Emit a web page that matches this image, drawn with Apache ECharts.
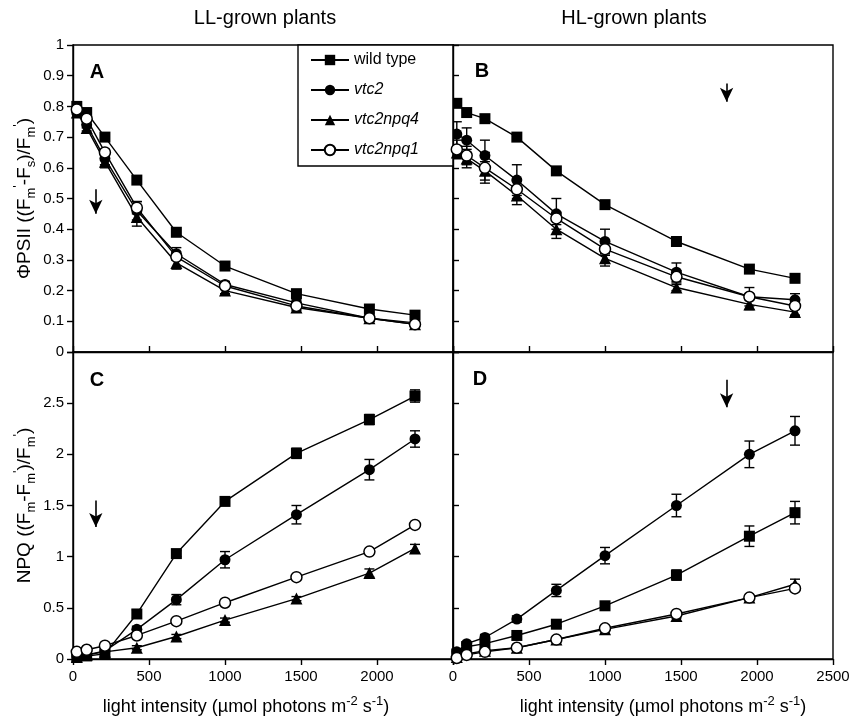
<!DOCTYPE html>
<html>
<head>
<meta charset="utf-8">
<script src="https://cdn.jsdelivr.net/npm/echarts@6/dist/echarts.min.js"></script>
<style>
  html, body { margin: 0; padding: 0; background: #fff; }
  #chart { width: 860px; height: 720px; }
</style>
</head>
<body>
<div id="chart"></div>
<script>
// light intensities (µmol photons m-2 s-1)
const lightX = [25, 90, 210, 420, 680, 1000, 1470, 1950, 2250]
const seriesNames = ['wild type', 'vtc2', 'vtc2npq4', 'vtc2npq1']

// A: PhiPSII, LL-grown
const wtA = [0.80, 0.78, 0.70, 0.56, 0.39, 0.28, 0.19, 0.14, 0.12]
const vtc2A = [0.78, 0.74, 0.63, 0.46, 0.32, 0.22, 0.16, 0.11, 0.095]
const npq4A = [0.78, 0.73, 0.62, 0.44, 0.29, 0.20, 0.145, 0.11, 0.09]
const npq1A = [0.79, 0.76, 0.65, 0.47, 0.31, 0.215, 0.15, 0.11, 0.09]
const wtAErr = [0, 0, 0, 0, 0, 0, 0, 0, 0]
const vtc2AErr = [0, 0.01, 0.02, 0.03, 0.02, 0.01, 0.01, 0.01, 0.01]
const npq4AErr = [0, 0.01, 0.02, 0.03, 0.02, 0.01, 0.01, 0.01, 0.01]
const npq1AErr = [0, 0.01, 0.01, 0.02, 0.01, 0.01, 0.01, 0.01, 0.01]

// B: PhiPSII, HL-grown
const wtB = [0.81, 0.78, 0.76, 0.70, 0.59, 0.48, 0.36, 0.27, 0.24]
const vtc2B = [0.71, 0.69, 0.64, 0.56, 0.45, 0.36, 0.26, 0.18, 0.17]
const npq4B = [0.65, 0.63, 0.59, 0.51, 0.40, 0.305, 0.21, 0.155, 0.13]
const npq1B = [0.66, 0.64, 0.60, 0.53, 0.435, 0.335, 0.245, 0.18, 0.15]
const wtBErr = [0, 0, 0, 0, 0, 0, 0, 0, 0]
const vtc2BErr = [0.04, 0.04, 0.05, 0.05, 0.05, 0.04, 0.03, 0.03, 0.02]
const npq4BErr = [0.02, 0.03, 0.03, 0.03, 0.03, 0.025, 0.01, 0.017, 0.01]
const npq1BErr = [0.03, 0.03, 0.05, 0.03, 0.02, 0.02, 0.02, 0.01, 0.01]

// C: NPQ, LL-grown
const wtC = [0.02, 0.03, 0.05, 0.44, 1.03, 1.54, 2.01, 2.34, 2.57]
const vtc2C = [0.03, 0.04, 0.08, 0.29, 0.58, 0.97, 1.41, 1.85, 2.15]
const npq4C = [0.02, 0.04, 0.07, 0.11, 0.22, 0.38, 0.59, 0.84, 1.08]
const npq1C = [0.07, 0.09, 0.13, 0.23, 0.37, 0.55, 0.80, 1.05, 1.31]
const wtCErr = [0, 0, 0, 0.04, 0.03, 0.03, 0.05, 0.05, 0.06]
const vtc2CErr = [0, 0, 0, 0.03, 0.05, 0.08, 0.09, 0.10, 0.08]
const npq4CErr = [0, 0, 0, 0.02, 0.02, 0.02, 0.02, 0.04, 0.04]
const npq1CErr = [0, 0, 0, 0.01, 0.01, 0.01, 0.01, 0.01, 0.02]

// D: NPQ, HL-grown
const wtD = [0.05, 0.12, 0.15, 0.23, 0.34, 0.52, 0.82, 1.20, 1.43]
const vtc2D = [0.07, 0.15, 0.21, 0.39, 0.67, 1.01, 1.50, 2.00, 2.23]
const npq4D = [0.02, 0.05, 0.08, 0.11, 0.19, 0.29, 0.42, 0.60, 0.73]
const npq1D = [0.01, 0.04, 0.07, 0.11, 0.19, 0.30, 0.44, 0.60, 0.69]
const wtDErr = [0, 0, 0, 0.01, 0.02, 0.02, 0.05, 0.10, 0.11]
const vtc2DErr = [0.02, 0.02, 0.03, 0.03, 0.06, 0.08, 0.11, 0.13, 0.14]
const npq4DErr = [0, 0, 0, 0.01, 0.01, 0.02, 0.02, 0.02, 0.05]
const npq1DErr = [0, 0, 0, 0, 0.01, 0.01, 0.01, 0.01, 0.02]

// growth light arrows (x, y from, y to)
const arrowA = [150, 0.53, 0.45]
const arrowB = [1800, 0.875, 0.815]
const arrowC = [150, 1.55, 1.29]
const arrowD = [1800, 2.73, 2.46]

const FONT = '"Liberation Sans", Arial, Helvetica, sans-serif'

const panels = [
  { vals: [wtA, vtc2A, npq4A, npq1A], errs: [wtAErr, vtc2AErr, npq4AErr, npq1AErr], arrow: arrowA },
  { vals: [wtB, vtc2B, npq4B, npq1B], errs: [wtBErr, vtc2BErr, npq4BErr, npq1BErr], arrow: arrowB },
  { vals: [wtC, vtc2C, npq4C, npq1C], errs: [wtCErr, vtc2CErr, npq4CErr, npq1CErr], arrow: arrowC },
  { vals: [wtD, vtc2D, npq4D, npq1D], errs: [wtDErr, vtc2DErr, npq4DErr, npq1DErr], arrow: arrowD }
]

const markerStyles = [
  { symbol: 'rect', symbolSize: 11, itemStyle: { color: '#000' } },
  { symbol: 'circle', symbolSize: 11, itemStyle: { color: '#000' } },
  { symbol: 'triangle', symbolSize: 12, itemStyle: { color: '#000' } },
  { symbol: 'circle', symbolSize: 11, itemStyle: { color: '#fff', borderColor: '#000', borderWidth: 1.5 } }
]

// vertical error bars with caps
const errorBars = (idx, vals, errs) => ({
  type: 'custom',
  xAxisIndex: idx,
  yAxisIndex: idx,
  z: 1,
  silent: true,
  encode: { x: 0, y: [1, 2] },
  data: lightX.map((x, i) => [x, vals[i] - errs[i], vals[i] + errs[i]]).filter((d, i) => errs[i] > 0),
  renderItem: (params, api) => {
    const lo = api.coord([api.value(0), api.value(1)])
    const hi = api.coord([api.value(0), api.value(2)])
    const w = 5
    const st = { stroke: '#000', lineWidth: 1.4 }
    return {
      type: 'group',
      children: [
        { type: 'line', shape: { x1: lo[0], y1: lo[1], x2: hi[0], y2: hi[1] }, style: st },
        { type: 'line', shape: { x1: hi[0] - w, y1: hi[1], x2: hi[0] + w, y2: hi[1] }, style: st },
        { type: 'line', shape: { x1: lo[0] - w, y1: lo[1], x2: lo[0] + w, y2: lo[1] }, style: st }
      ]
    }
  }
})

const series = []
panels.forEach((p, idx) => {
  p.vals.forEach((vals, k) => {
    series.push(errorBars(idx, vals, p.errs[k]))
  })
  p.vals.forEach((vals, k) => {
    const s = {
      name: seriesNames[k],
      type: 'line',
      xAxisIndex: idx,
      yAxisIndex: idx,
      data: lightX.map((x, i) => [x, vals[i]]),
      symbol: markerStyles[k].symbol,
      symbolSize: markerStyles[k].symbolSize,
      showAllSymbol: true,
      itemStyle: markerStyles[k].itemStyle,
      lineStyle: { color: '#000', width: 1.4 },
      z: 2 + k,
      animation: false
    }
    if (k === 0) {
      const a = p.arrow
      s.markLine = {
        silent: true,
        symbol: ['none', 'arrow'],
        symbolSize: [10, 14],
        label: { show: false },
        lineStyle: { color: '#000', width: 1.6, type: 'solid' },
        data: [[{ coord: [a[0], a[1]] }, { coord: [a[0], a[2]] }]]
      }
    }
    series.push(s)
  })
})

const gridPos = [
  { left: 73, top: 45 },
  { left: 453, top: 45 },
  { left: 73, top: 352 },
  { left: 453, top: 352 }
]

const axisLineStyle = { show: true, lineStyle: { color: '#000', width: 1.4 } }
const labelStyle = { color: '#000', fontFamily: FONT, fontSize: 15 }

const xAxes = [0, 1, 2, 3].map(i => {
  const top = i < 2
  const ax = {
    type: 'value',
    gridIndex: i,
    min: 0,
    max: 2500,
    interval: 500,
    splitLine: { show: false },
    axisLine: axisLineStyle,
    axisTick: { show: true, inside: top, length: 6, lineStyle: { color: '#000', width: 1.4 } },
    axisLabel: {
      show: !top,
      margin: 10,
      ...labelStyle,
      formatter: v => (i === 2 && v === 2500) ? '' : String(v)
    }
  }
  if (!top) {
    ax.name = 'light intensity ({mu|µ}mol photons m{sup|-2} s{sup|-1})'
    ax.nameLocation = 'middle'
    ax.nameGap = 36
    ax.nameTextStyle = {
      color: '#000',
      fontFamily: FONT,
      fontSize: 18,
      lineHeight: 24,
      padding: i === 2 ? [0, 34, 0, 0] : [0, 0, 0, 40],
      rich: {
        mu: { fontFamily: FONT, fontSize: 18, color: '#000' },
        sup: { fontFamily: FONT, fontSize: 13, lineHeight: 12, verticalAlign: 'top', color: '#000' }
      }
    }
  }
  return ax
})

const richName = {
  sub: { fontFamily: FONT, fontSize: 13, lineHeight: 11, verticalAlign: 'bottom', color: '#000' },
  sup: { fontFamily: FONT, fontSize: 13, lineHeight: 11, verticalAlign: 'top', color: '#000' }
}

const yAxes = [0, 1, 2, 3].map(i => {
  const left = i % 2 === 0
  const npq = i >= 2
  const ax = {
    type: 'value',
    gridIndex: i,
    min: 0,
    max: npq ? 3 : 1,
    interval: npq ? 0.5 : 0.1,
    splitLine: { show: false },
    axisLine: axisLineStyle,
    axisTick: { show: true, inside: !left, length: 6, lineStyle: { color: '#000', width: 1.4 } },
    axisLabel: {
      show: left,
      margin: 9,
      ...labelStyle,
      formatter: v => (npq && v === 3) ? '' : String(v)
    }
  }
  if (left) {
    ax.name = npq
      ? 'NPQ ((F{sub|m}-F{sub|m}{sup|\'})/F{sub|m}{sup|\'})'
      : 'ΦPSII ((F{sub|m}{sup|\'}-F{sub|s})/F{sub|m}{sup|\'})'
    ax.nameLocation = 'middle'
    ax.nameRotate = 90
    ax.nameGap = 35
    ax.nameTextStyle = { color: '#000', fontFamily: FONT, fontSize: 19, lineHeight: 26, rich: richName }
  }
  return ax
})

const text = (t, x, y, font) => ({
  type: 'text',
  x: x,
  y: y,
  silent: true,
  style: { text: t, font: font, fill: '#000', align: 'center', verticalAlign: 'middle' }
})

const option = {
  backgroundColor: '#fff',
  animation: false,
  grid: gridPos.map(g => ({
    left: g.left,
    top: g.top,
    width: 380,
    height: 307,
    show: true,
    borderColor: '#000',
    borderWidth: 1.4,
    backgroundColor: 'transparent',
    containLabel: false
  })),
  xAxis: xAxes,
  yAxis: yAxes,
  legend: {
    orient: 'vertical',
    left: 298,
    top: 45,
    itemWidth: 38,
    itemHeight: 13,
    itemGap: 14,
    padding: [7, 34, 8, 12],
    borderColor: '#000',
    borderWidth: 1.4,
    backgroundColor: '#fff',
    selectedMode: false,
    textStyle: { color: '#000', fontFamily: FONT, fontSize: 16 },
    data: seriesNames.map((n, k) => ({
      name: n,
      textStyle: { fontStyle: k === 0 ? 'normal' : 'italic' }
    }))
  },
  graphic: [
    text('LL-grown plants', 265, 18, '20px ' + FONT),
    text('HL-grown plants', 634, 18, '20px ' + FONT),
    text('A', 97, 72, 'bold 20px ' + FONT),
    text('B', 482, 71, 'bold 20px ' + FONT),
    text('C', 97, 380, 'bold 20px ' + FONT),
    text('D', 480, 379, 'bold 20px ' + FONT)
  ],
  series: series
}

const chart = echarts.init(document.getElementById('chart'), null, { renderer: 'canvas' })
chart.setOption(option)
</script>
</body>
</html>
